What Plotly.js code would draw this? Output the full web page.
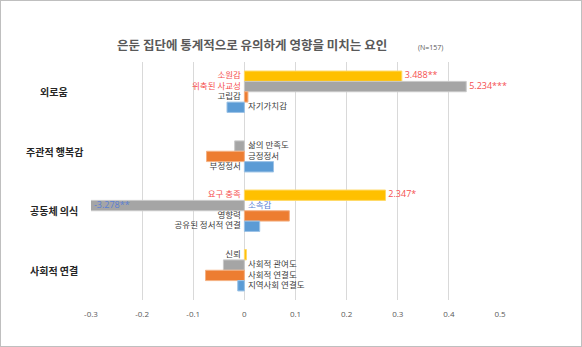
<!DOCTYPE html>
<html>
<head>
<meta charset="utf-8">
<script src="https://cdn.plot.ly/plotly-3.0.1.min.js"></script>
<style>
  html, body { margin: 0; padding: 0; background: #fff; }
  #chart { width: 580px; height: 345px; border: 1px solid #bfbfbf; }
</style>
</head>
<body>
<div id="chart"></div>
<script>
// ---- data ----
const categories = ['외로움', '주관적 행복감', '공동체 의식', '사회적 연결'];

const yellowNames = ['소원감', null, '요구 충족', '신뢰'];
const yellowVals  = [0.308, null, 0.276, 0.004];
const yellowT     = ['3.488**', null, '2.347*', null];

const grayNames = ['위축된 사교성', '삶의 만족도', '소속감', '사회적 관여도'];
const grayVals  = [0.434, -0.019, -0.32, -0.041];
const grayT     = ['5.234***', null, '-3.278**', null];

const orangeNames = ['고립감', '긍정정서', '영향력', '사회적 연결도'];
const orangeVals  = [0.007, -0.074, 0.088, -0.076];

const blueNames = ['자기가치감', '부정정서', '공유된 정서적 연결', '지역사회 연결도'];
const blueVals  = [-0.034, 0.057, 0.030, -0.013];

const xTicks = [-0.3, -0.2, -0.1, 0, 0.1, 0.2, 0.3, 0.4, 0.5];
const xTickText = ['-0.3', '-0.2', '-0.1', '0', '0.1', '0.2', '0.3', '0.4', '0.5'];

// significant items (name drawn in colour)
const sigRed = ['소원감', '위축된 사교성', '요구 충족'];
const sigBlue = ['소속감'];

// ---- styling ----
const RED = '#f5504f';
const BLUEV = '#5a7fd4';
const NAMECOL = '#404040';
const xMin = -0.3, xMax = 0.5;
const slot = 0.174;

const series = [
  {names: yellowNames, vals: yellowVals, t: yellowT, color: '#ffc000', line: '#ffd966'},
  {names: grayNames,   vals: grayVals,   t: grayT,   color: '#a5a5a5', line: '#c9c9c9'},
  {names: orangeNames, vals: orangeVals, t: null,    color: '#ed7d31', line: '#f4b183'},
  {names: blueNames,   vals: blueVals,   t: null,    color: '#5b9bd5', line: '#9dc3e6'}
];

const traces = [];
const nameX = [], nameY = [], nameT = [], namePos = [], nameCol = [];
const valX = [], valY = [], valT = [], valCol = [];

series.forEach((s, si) => {
  const ys = categories.map((c, i) => i + (si - 1.5) * slot);
  traces.push({
    type: 'bar', orientation: 'h',
    x: s.vals, y: ys, width: slot,
    marker: {color: s.color, line: {color: s.line, width: 1}},
    hoverinfo: 'none', showlegend: false
  });
  s.names.forEach((n, i) => {
    if (n === null) return;
    const v = s.vals[i];
    nameX.push(0); nameY.push(ys[i]); nameT.push(n);
    namePos.push(v > 0 ? 'middle left' : 'middle right');
    nameCol.push(sigRed.includes(n) ? RED : (sigBlue.includes(n) ? BLUEV : NAMECOL));
    if (s.t && s.t[i]) {
      valX.push(Math.max(v, xMin)); valY.push(ys[i]); valT.push(s.t[i]);
      valCol.push(v > 0 ? RED : BLUEV);
    }
  });
});

traces.push({
  type: 'scatter', mode: 'markers+text', x: nameX, y: nameY, text: nameT,
  textposition: namePos,
  marker: {size: 4, opacity: 0},
  textfont: {family: 'Noto Sans CJK KR', size: 8.5, color: nameCol},
  cliponaxis: false, hoverinfo: 'none', showlegend: false
});
traces.push({
  type: 'scatter', mode: 'markers+text', x: valX, y: valY, text: valT,
  textposition: 'middle right',
  marker: {size: 3, opacity: 0},
  textfont: {family: 'Open Sans', size: 9, color: valCol},
  cliponaxis: false, hoverinfo: 'none', showlegend: false
});

const annotations = categories.map((c, i) => ({
  text: '<b>' + c + '</b>', xref: 'paper', yref: 'y', x: -0.09, y: i,
  xanchor: 'center', yanchor: 'middle', showarrow: false,
  font: {family: 'Noto Sans CJK KR', size: 10, color: '#262626'}
}));
annotations.push({
  text: '(N=157)', xref: 'paper', yref: 'paper', x: 0.829, y: 1.063,
  xanchor: 'center', yanchor: 'middle', showarrow: false,
  font: {family: 'Open Sans', size: 7, color: '#595959'}
});

const layout = {
  width: 580, height: 345,
  margin: {l: 90, r: 81, t: 61, b: 46},
  paper_bgcolor: '#ffffff', plot_bgcolor: '#ffffff',
  barmode: 'overlay',
  title: {
    text: '<b>은둔 집단에 통계적으로 유의하게 영향을 미치는 요인</b>',
    font: {family: 'Noto Sans CJK KR', size: 12.5, color: '#595959'},
    x: 0.433, xanchor: 'center', xref: 'container',
    y: 0.87, yanchor: 'middle', yref: 'container'
  },
  xaxis: {
    range: [xMin, xMax], tickvals: xTicks, ticktext: xTickText,
    showgrid: true, gridcolor: '#d9d9d9', gridwidth: 1,
    zeroline: false, showline: false, ticks: '',
    tickfont: {family: 'Open Sans', size: 8, color: '#595959'},
    ticklabelstandoff: 8, fixedrange: true
  },
  yaxis: {
    range: [3.5, -0.5], showgrid: false, zeroline: false,
    showticklabels: false, ticks: '', fixedrange: true
  },
  annotations: annotations,
  showlegend: false
};

Plotly.newPlot('chart', traces, layout, {staticPlot: true, displayModeBar: false});
</script>
</body>
</html>
